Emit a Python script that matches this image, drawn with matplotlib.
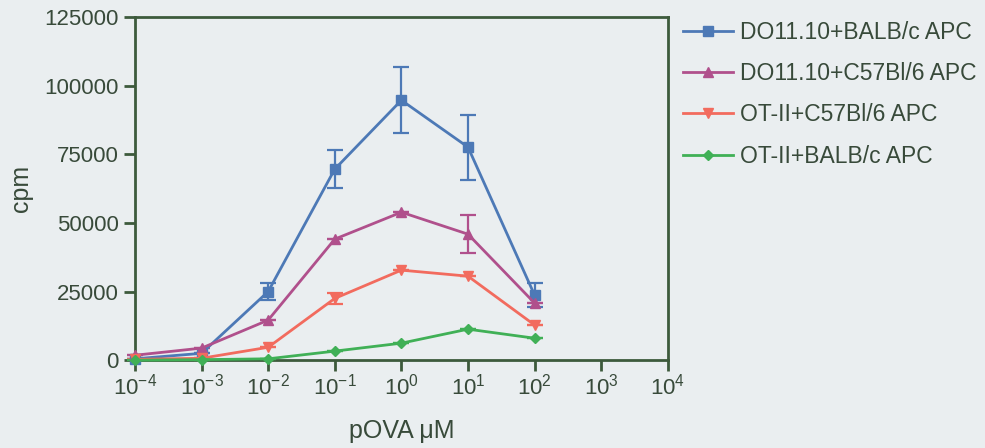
import numpy as np
import matplotlib.pyplot as plt

plt.rcParams['font.family'] = ['Liberation Sans', 'DejaVu Sans']
plt.rcParams['mathtext.fontset'] = 'custom'
plt.rcParams['mathtext.rm'] = 'Liberation Sans'
plt.rcParams['mathtext.it'] = 'Liberation Sans'

# pOVA concentrations (uM)
dose = [1e-4, 1e-3, 1e-2, 1e-1, 1e0, 1e1, 1e2]

do11_balb = [500, 2500, 25000, 69600, 94700, 77600, 23700]
do11_balb_err = [0, 0, 3000, 7000, 12000, 11800, 4500]

do11_b6 = [1800, 4400, 14600, 44100, 53900, 45900, 20800]
do11_b6_err = [0, 0, 0, 0, 0, 7000, 0]

ot2_b6 = [300, 700, 4700, 22500, 32800, 30600, 12800]
ot2_b6_err = [0, 0, 0, 2000, 0, 0, 0]

ot2_balb = [0, 200, 500, 3300, 6200, 11300, 8000]
ot2_balb_err = [0, 0, 0, 0, 0, 0, 0]

labels = ['DO11.10+BALB/c APC', 'DO11.10+C57Bl/6 APC',
          'OT-II+C57Bl/6 APC', 'OT-II+BALB/c APC']
colors = ['#4d79b6', '#b0508c', '#f26b5e', '#40b056']

bg = '#eaeef0'
ink = '#384a3a'
axis_col = '#3d5a3c'

fig = plt.figure(figsize=(9.85, 4.48), dpi=100, facecolor=bg)
ax = fig.add_axes([0.137, 0.196, 0.541, 0.766], facecolor=bg)

series = [(do11_balb, do11_balb_err, 's', 7),
          (do11_b6, do11_b6_err, '^', 7),
          (ot2_b6, ot2_b6_err, 'v', 7),
          (ot2_balb, ot2_balb_err, 'D', 5)]
for (y, err, m, ms), lab, c in zip(series, labels, colors):
    ax.errorbar(dose, y, yerr=err, fmt='none', ecolor=c, capsize=6,
                elinewidth=1.6, capthick=1.6, clip_on=False, zorder=3)
    ax.plot(dose, y, color=c, marker=m, markersize=ms, linewidth=2,
            label=lab, clip_on=False, zorder=4)

ax.set_xscale('log')
ax.set_xlim(1e-4, 1e4)
ax.set_ylim(0, 125000)
ax.set_xticks([10.0 ** k for k in range(-4, 5)])
ax.set_xticklabels(['10$^{%d}$' % k for k in range(-4, 5)])
ax.xaxis.set_minor_locator(plt.NullLocator())
ax.set_yticks([0, 25000, 50000, 75000, 100000, 125000])

for s in ax.spines.values():
    s.set_color(axis_col)
    s.set_linewidth(2)
ax.tick_params(axis='both', colors=axis_col, labelcolor=ink, width=2,
               length=8, labelsize=16, direction='out')
ax.tick_params(axis='x', pad=2)

ax.set_xlabel('pOVA μM', fontsize=18, color=ink, labelpad=14)
ax.set_ylabel('cpm', fontsize=18, color=ink, labelpad=8)

leg = ax.legend(loc='upper left', bbox_to_anchor=(1.0, 1.033), frameon=False,
                fontsize=16.5, handlelength=2.2, handletextpad=0.3,
                labelspacing=0.8, borderaxespad=0.25)
for t in leg.get_texts():
    t.set_color(ink)

fig.savefig('out.png', dpi=100, facecolor=bg)
